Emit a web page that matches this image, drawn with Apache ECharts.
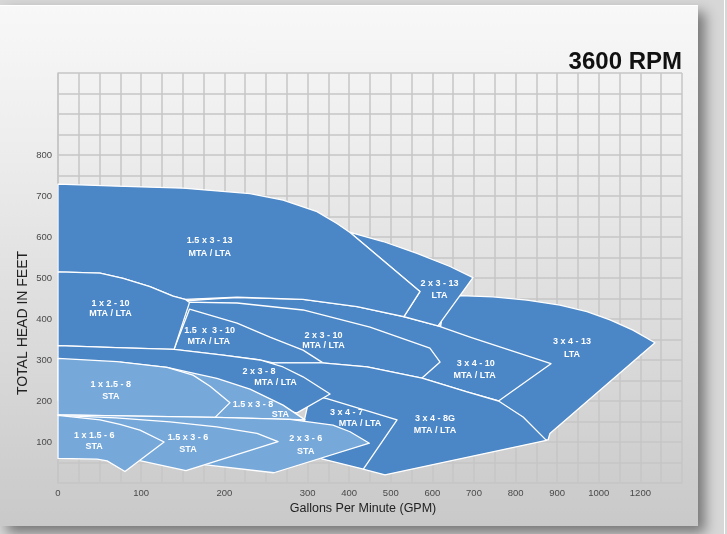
<!DOCTYPE html>
<html><head><meta charset="utf-8">
<script src="https://cdn.jsdelivr.net/npm/echarts/dist/echarts.min.js"></script>
<style>
html,body{margin:0;padding:0;width:727px;height:534px;overflow:hidden;background:#d7d7d7;}
#card{position:absolute;left:0;top:5px;width:698px;height:520px;border-top:1px solid #fff;background:linear-gradient(to bottom,#f8f8f8 0%,#eeeeee 25%,#c9c9c9 100%);box-shadow:7px 7px 12px rgba(0,0,0,0.45);}
#edge{position:absolute;left:724px;top:0;width:1px;height:534px;background:#fff;}
#chart{position:absolute;left:0;top:0;width:727px;height:534px;}
</style></head><body>
<div id="card"></div><div id="edge"></div><div id="chart"></div>
<script>
// x axis is laid out in grid columns; GPM tick labels sit on these columns
const xTickCols = [0,4,8,12,14,16,18,20,22,24,26,28];
const xTickLabels = ['0','100','200','300','400','500','600','700','800','900','1000','1200'];
const yTickLabels = [100,200,300,400,500,600,700,800];

// polygon outlines: [column, head in feet]
const P_3x4_13 = [[18.61,456],[19.33,457],[20.91,454],[22.55,446],[24.13,434],[25.43,418],[26.54,398],[27.64,373],[28.70,342],[23.65,121],[23.56,105],[21.25,105],[20.29,251],[18.37,373]];
const P_3x4_10 = [[6.15,444],[8.61,453],[11.78,448],[14.38,430],[16.59,406],[18.27,383],[19.81,356],[23.70,291],[21.18,200],[19.66,222],[17.50,256],[14.86,283],[12.69,293],[10.34,293],[5.6,400]];
const P_2x3_13 = [[14.04,611],[15.63,589],[17.26,560],[18.85,528],[19.95,501],[18.27,383],[16.63,406],[17.40,467]];
const P_1_5x3_13 = [[0,729],[2.84,724],[6.01,719],[9.23,706],[10.82,690],[12.45,662],[13.41,633],[14.04,611],[17.40,467],[16.63,406],[14.38,430],[11.78,448],[8.61,453],[6.11,448],[5.53,456],[4.42,479],[3.13,499],[2.02,512],[0,515]];
const P_2x3_10 = [[6.11,441],[8.61,439],[11.78,422],[15.00,380],[17.88,329],[18.37,295],[17.50,256],[14.86,283],[12.69,293],[10.34,293],[5.58,326]];
const P_1_5x3_10 = [[6.32,424],[8.61,390],[10.19,356],[11.78,324],[12.74,293],[10.34,293],[9.71,300],[7.93,312],[5.58,326]];
const P_1x2_10 = [[0,515],[2.02,512],[3.13,499],[4.42,479],[5.53,456],[6.11,448],[6.32,440],[5.58,326],[2.79,330],[0,335]];
const P_3x4_8G = [[10.34,293],[12.69,293],[14.86,283],[17.50,256],[19.66,222],[21.18,200],[22.36,161],[23.48,104],[15.72,20],[14.71,33],[13.08,129],[11.15,227]];
const P_3x4_7 = [[12.12,215],[12.93,206],[16.30,154],[14.68,34],[12.69,59],[11.63,105]];
const P_2x3_8 = [[0,335],[2.79,330],[5.58,326],[7.93,312],[9.71,300],[10.82,283],[11.78,259],[13.08,217],[11.49,171],[9.23,190],[4.42,202],[0,202]];
const P_1_5x3_8 = [[2.98,295],[5.24,282],[7.64,255],[9.23,229],[10.82,190],[11.88,154],[11.15,155],[7.55,160],[2.98,163]];
const P_1x1_5_8 = [[0,304],[2.84,296],[5.24,282],[6.49,263],[7.31,236],[8.27,196],[7.55,160],[0,166]];
const P_2x3_6 = [[0,166],[7.64,160],[11.15,155],[13.22,141],[14.04,125],[14.97,97],[10.38,25],[7.12,44],[2.98,105]];
const P_1_5x3_6 = [[0,165],[2.79,159],[5.38,149],[7.64,137],[9.57,121],[10.58,101],[6.15,30],[3.99,54],[2.50,105]];
const P_1x1_5_6 = [[0,165],[2.02,154],[2.98,143],[3.94,129],[5.10,100],[3.22,28],[2.36,54],[1.88,58],[0,60]];

// back-to-front order, and tone (dark = MTA/LTA, light = STA)
const shapeOrder = [P_3x4_13,P_3x4_10,P_2x3_13,P_1_5x3_13,P_2x3_10,P_1_5x3_10,P_1x2_10,P_3x4_8G,P_3x4_7,P_2x3_8,P_1_5x3_8,P_1x1_5_8,P_2x3_6,P_1_5x3_6,P_1x1_5_6];
const shapeTone = ['d','d','d','d','d','d','d','d','d','d','l','l','l','l','l'];

const labelText = ['1.5 x 3 - 13','MTA / LTA','2 x 3 - 13','LTA','1 x 2 - 10','MTA / LTA','1.5  x  3 - 10','MTA / LTA','2 x 3 - 10','MTA / LTA','3 x 4 - 13','LTA','3 x 4 - 10','MTA / LTA','2 x 3 - 8','MTA / LTA','1 x 1.5 - 8','STA','1.5 x 3 - 8','STA','3 x 4 - 7','MTA / LTA','3 x 4 - 8G','MTA / LTA','1 x 1.5 - 6','STA','1.5 x 3 - 6','STA','2 x 3 - 6','STA'];
const labelAt = [[7.29,591],[7.29,559],[18.34,486],[18.34,457],[2.52,438],[2.52,413],[7.29,371],[7.25,345],[12.76,360],[12.76,335],[24.71,345],[24.71,314],[20.08,291],[20.03,262],[9.66,272],[10.46,245],[2.54,240],[2.54,210],[9.37,191],[10.69,167],[13.87,171],[14.52,146],[18.12,157],[18.12,128],[1.74,115],[1.74,88],[6.25,111],[6.25,82],[11.91,108],[11.91,77]];

const DARK = '#4b86c6', LIGHT = '#76a8da', GRID = '#c6c6c6';
const FONT = '"Liberation Sans", Arial, sans-serif';

const polySeries = shapeOrder.map((pts, k) => ({
  type: 'custom', coordinateSystem: 'cartesian2d', silent: true, z: 2 + k,
  data: [pts[0]],
  renderItem: (params, api) => ({
    type: 'polygon',
    shape: { points: pts.map(p => api.coord(p)) },
    style: { fill: shapeTone[k] === 'd' ? DARK : LIGHT, stroke: '#ffffff', lineWidth: 1.3, lineJoin: 'round' }
  })
}));

const labelSeries = {
  type: 'custom', coordinateSystem: 'cartesian2d', silent: true, z: 50,
  data: labelAt.map((p, i) => [p[0], p[1], i]),
  renderItem: (params, api) => {
    const c = api.coord([api.value(0), api.value(1)]);
    return { type: 'text', x: c[0], y: c[1],
      style: { text: labelText[api.value(2)], fill: '#ffffff', font: 'bold 9px ' + FONT, align: 'center', verticalAlign: 'middle' } };
  }
};

const chart = echarts.init(document.getElementById('chart'), null, { renderer: 'canvas' });
chart.setOption({
  animation: false,
  backgroundColor: 'transparent',
  grid: { left: 58, top: 73, width: 624, height: 410 },
  xAxis: {
    type: 'value', min: 0, max: 30, interval: 1,
    axisLine: { show: true, lineStyle: { color: GRID, width: 1.5 } },
    axisTick: { show: false },
    splitLine: { show: true, lineStyle: { color: GRID, width: 1.5 } },
    axisLabel: { margin: 5, fontSize: 9.5, color: '#4a4a4a', fontFamily: FONT,
      formatter: v => { const i = xTickCols.indexOf(Math.round(v)); return i >= 0 ? xTickLabels[i] : ''; } }
  },
  yAxis: {
    type: 'value', min: 0, max: 1000, interval: 50,
    axisLine: { show: true, lineStyle: { color: GRID, width: 1.5 } },
    axisTick: { show: false },
    splitLine: { show: true, lineStyle: { color: GRID, width: 1.5 } },
    axisLabel: { margin: 6, fontSize: 9.5, color: '#4a4a4a', fontFamily: FONT,
      formatter: v => yTickLabels.indexOf(Math.round(v)) >= 0 ? String(Math.round(v)) : '' }
  },
  graphic: [
    { type: 'text', x: 682, y: 62, style: { text: '3600 RPM', font: 'bold 24px ' + FONT, fill: '#111111', align: 'right', verticalAlign: 'middle' } },
    { type: 'text', x: 23, y: 323, rotation: Math.PI / 2, style: { text: 'TOTAL HEAD IN FEET', font: '14px ' + FONT, fill: '#222222', align: 'center', verticalAlign: 'middle' } },
    { type: 'text', x: 363, y: 509, style: { text: 'Gallons Per Minute (GPM)', font: '12.5px ' + FONT, fill: '#222222', align: 'center', verticalAlign: 'middle' } }
  ],
  series: polySeries.concat([labelSeries])
});
</script></body></html>
